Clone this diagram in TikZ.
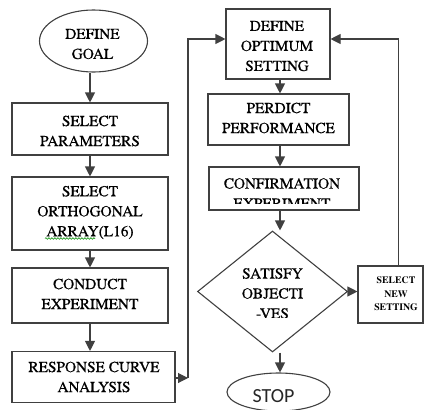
\documentclass[tikz,border=0pt]{standalone}
\usepackage{fontspec}
\IfFontExistsTF{texgyretermes-regular.otf}
  {\setmainfont{texgyretermes-regular.otf}[BoldFont=texgyretermes-bold.otf]
   \newfontfamily\bodyfont{texgyretermes-regular.otf}[RawFeature={embolden=0.5}]}
  {\setmainfont{Liberation Serif}
   \newfontfamily\bodyfont{Liberation Serif}[RawFeature={embolden=0.5}]}
\newfontfamily\stopfont{Carlito}
\usetikzlibrary{shapes.geometric,arrows.meta,decorations.pathmorphing}
\begin{document}
\begin{tikzpicture}[x=1pt,y=-1pt,
  line/.style={draw=black!75,line width=1.1pt},
  arr/.style={line,-{Triangle[length=10pt,width=10pt]}},
  boxnode/.style={line,rectangle,inner sep=0pt},
  txt/.style={align=center,inner sep=0pt,text=black,font=\bodyfont\fontsize{15.3}{20}\selectfont}
]
\useasboundingbox (0,0) rectangle (424,410);
% shapes
\node[line,ellipse,minimum width=108pt,minimum height=62pt,inner sep=0pt] (goal) at (93.5,41) {};
\node[boxnode,minimum width=156pt,minimum height=52pt] (params) at (90,129) {};
\node[boxnode,minimum width=156pt,minimum height=73pt] (ortho) at (90,213.5) {};
\node[boxnode,minimum width=156pt,minimum height=55pt] (conduct) at (90,295.5) {};
\node[boxnode,minimum width=163pt,minimum height=51pt] (response) at (93.5,377) {};
\node[boxnode,minimum width=104pt,minimum height=70pt] (optimum) at (278,44) {};
\node[boxnode,minimum width=141pt,minimum height=51pt] (perdict) at (278.5,119.5) {};
\node[boxnode,minimum width=150pt,minimum height=43pt] (confirm) at (284,188.5) {};
\node[line,diamond,minimum width=150pt,minimum height=121pt,inner sep=0pt] (diamond) at (272.5,291.5) {};
\node[boxnode,minimum width=65pt,minimum height=57pt] (newset) at (390.5,294.5) {};
\node[line,ellipse,minimum width=103pt,minimum height=38pt,inner sep=0pt] (stop) at (278.5,392) {};
% texts
\node[txt] (tgoal) at (92.5,44) {DEFINE\\GOAL};
\node[txt] (tparams) at (90,131) {SELECT\\PARAMETERS};
\node[txt] (tortho) at (90,212.5) {SELECT\\ORTHOGONAL\\ARRAY(L16)};
\node[txt] (tconduct) at (90,294) {CONDUCT\\EXPERIMENT};
\node[txt] (tresponse) at (94,377) {RESPONSE CURVE\\ANALYSIS};
\node[txt] (toptimum) at (277,46) {DEFINE\\OPTIMUM\\SETTING};
\node[txt] (tperdict) at (278.5,118) {PERDICT\\PERFORMANCE};
\begin{scope}
  \clip (150,160) rectangle (380,203.5);
  \node[txt] (tconfirm) at (282,193.5) {CONFIRMATION\\EXPERIMENT};
\end{scope}
\begin{scope}
  \clip (200,250) rectangle (350,317);
  \node[txt] (tdiamond) at (272.5,293.5) {SATISFY\\OBJECTI\\-VES};
\end{scope}
\node[align=center,inner sep=0pt,text=black,font=\rmfamily\bfseries\fontsize{9.8}{13.5}\selectfont] (tnewset) at (396,294) {SELECT\\NEW\\SETTING};
\node[inner sep=0pt,text=black!85,font=\stopfont\fontsize{20}{24}\selectfont] (tstop) at (273.5,396.5) {STOP};
% spell-check squiggle
\draw[green!55!black,line width=0.6pt,decorate,decoration={snake,amplitude=0.8pt,segment length=3pt}] (45,238.5) -- (95,238.5);
% connectors
\coordinate (c1) at (188,39);
\coordinate (j1) at (188,378);
\coordinate (c2) at (398.5,39);
\coordinate (vx) at (280,0);
\draw[arr] (params.north |- goal.south) -- (params.north);
\draw[arr] (params.south) -- (ortho.north);
\draw[arr] (ortho.south) -- (conduct.north);
\draw[arr] (conduct.south) -- (conduct.south |- response.north);
\draw[arr] (response.east |- j1) -- (j1);
\draw[arr] (j1) -- (c1) -- (optimum.west |- c1);
\draw[arr] (vx |- optimum.south) -- (vx |- perdict.north);
\draw[arr] (vx |- perdict.south) -- (vx |- confirm.north);
\draw[arr] (vx |- confirm.south) -- (vx |- diamond.north);
\draw[arr] (vx |- diamond.south) -- (vx |- stop.north);
\draw[arr] (diamond.east) -- (diamond.east -| newset.west);
\draw[arr] (c2 |- newset.north) -- (c2) -- (optimum.east |- c2);
\end{tikzpicture}
\end{document}
